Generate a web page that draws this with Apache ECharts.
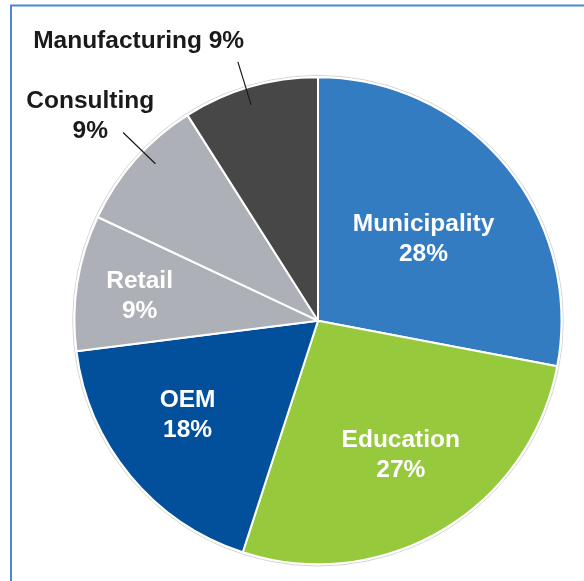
<!DOCTYPE html>
<html>
<head>
<meta charset="utf-8">
<style>
  html, body { margin: 0; padding: 0; background: #fff; }
  #chart { width: 584px; height: 581px; }
</style>
<script src="https://cdn.jsdelivr.net/npm/echarts@6/dist/echarts.min.js"></script>
</head>
<body>
<div id="chart"></div>
<script>
// Customer segments, share of total (%), clockwise from 12 o'clock
const segments = ['Municipality', 'Education', 'OEM', 'Retail', 'Consulting', 'Manufacturing'];
const shares = [28, 27, 18, 9, 9, 9];
const colors = ['#337cc2', '#97c93d', '#02509b', '#adb0b7', '#adb0b7', '#474747'];

// Pie geometry (px)
const CX = 318, CY = 320.7, R = 243.5;

// Label anchors: distance from centre and angle offset from the slice's mid-angle
const labelPolar = [
  { r: 133, da: 2.1 },
  { r: 158, da: -1.0 },
  { r: 161, da: 3.7 },
  { r: 180, da: -1.3 },
  { r: 306, da: 0.5 },
  { r: 332, da: -16.5 }
];
// Outside labels get a short leader line (radius from/to, angle offset)
const leader = {
  4: { r0: 226, r1: 271, da: 2.6 },
  5: { r0: 226, r1: 271, da: -1.0 }
};
const outside = { 4: '{b}\n{c}%', 5: '{b} {c}%' };

const total = shares.reduce((s, v) => s + v, 0);
const midAngles = [];
let acc = 0;
shares.forEach(v => { midAngles.push((acc + v / 2) / total * 360); acc += v; });

function polar(r, deg) {
  const t = deg * Math.PI / 180;
  return [CX + r * Math.sin(t), CY - r * Math.cos(t)];
}

const FONT = 'Arial, "Liberation Sans", Helvetica, sans-serif';

// Filled slices
const sliceData = segments.map((name, i) => ({
  name: name, value: shares[i], itemStyle: { color: colors[i] }
}));

// Same values again, drawn transparent on top so labels and leader lines sit above the slices
const labelData = segments.map((name, i) => {
  const item = { name: name, value: shares[i] };
  if (outside[i]) {
    item.label = {
      position: 'outside',
      formatter: outside[i],
      color: '#1a1a1a',
      overflow: 'none'
    };
    item.labelLine = { show: true, lineStyle: { color: '#1a1a1a', width: 1.2 } };
  }
  return item;
});

const chart = echarts.init(document.getElementById('chart'), null, { renderer: 'canvas' });
chart.setOption({
  backgroundColor: '#ffffff',
  animation: false,
  graphic: [
    {
      type: 'rect',
      shape: { x: 11, y: 5.5, width: 700, height: 700 },
      style: { fill: 'none', stroke: '#4a87d0', lineWidth: 2 },
      z: 0
    },
    {
      // faint outline around the disc
      type: 'circle',
      shape: { cx: CX, cy: CY, r: R + 1.8 },
      style: { fill: 'none', stroke: '#d4d4d4', lineWidth: 1 },
      z: 0
    }
  ],
  series: [
    {
      type: 'pie',
      center: [CX, CY],
      radius: [0, R],
      startAngle: 90,
      clockwise: true,
      z: 2,
      silent: true,
      itemStyle: { borderColor: '#ffffff', borderWidth: 2 },
      label: { show: false },
      labelLine: { show: false },
      emphasis: { disabled: true },
      data: sliceData
    },
    {
      type: 'pie',
      center: [CX, CY],
      radius: [0, R],
      startAngle: 90,
      clockwise: true,
      z: 3,
      silent: true,
      itemStyle: { color: 'rgba(0,0,0,0)', borderWidth: 0 },
      label: {
        show: true,
        position: 'inside',
        formatter: '{b}\n{c}%',
        color: '#ffffff',
        fontFamily: FONT,
        fontWeight: 'bold',
        fontSize: 24.5,
        lineHeight: 30,
        align: 'center',
        overflow: 'none'
      },
      labelLayout: function (params) {
        const i = params.dataIndex;
        const p = labelPolar[i];
        const pos = polar(p.r, midAngles[i] + p.da);
        const out = { x: pos[0], y: pos[1], align: 'center', verticalAlign: 'middle' };
        const l = leader[i];
        if (l) {
          const a = midAngles[i] + l.da;
          const p0 = polar(l.r0, a), p1 = polar(l.r1, a);
          out.labelLinePoints = [p0, p1, p1];
        }
        return out;
      },
      emphasis: { disabled: true },
      data: labelData
    }
  ]
});
</script>
</body>
</html>
